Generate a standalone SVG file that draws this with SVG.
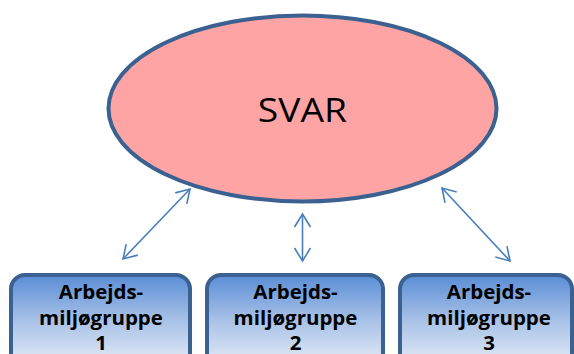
<svg xmlns="http://www.w3.org/2000/svg" width="574" height="354" viewBox="0 0 574 354">
<style>
.box{stroke:#3b6190;stroke-width:4;fill:url(#g)}
.bt{font-family:"Open Sans","Liberation Sans",sans-serif;font-weight:bold;font-size:19.5px;fill:#000;text-anchor:middle}
.conn{stroke:#4a7ebb;stroke-width:1.6;fill:none;marker-start:url(#ah);marker-end:url(#ah)}
</style>
<defs>
<linearGradient id="g" x1="0" y1="0" x2="0" y2="1">
<stop offset="0" stop-color="#5a8dd5"/>
<stop offset="0.45" stop-color="#a7c1e7"/>
<stop offset="0.8" stop-color="#d7e2f3"/>
<stop offset="1" stop-color="#dde6f4"/>
</linearGradient>
<marker id="ah" markerUnits="userSpaceOnUse" viewBox="-15 -10 17 20" markerWidth="17" markerHeight="20" refX="0" refY="0" orient="auto-start-reverse">
<path d="M-13,-8 L0,0 L-13,8" fill="none" stroke="#4a7ebb" stroke-width="1.6"/>
</marker>
</defs>
<g id="svar">
<ellipse cx="302.5" cy="108.5" rx="194" ry="93" fill="#ffa4a4" stroke="#3b6190" stroke-width="4"/>
<text transform="translate(302.5,122) scale(1.13,1)" font-family="Open Sans, Liberation Sans, sans-serif" font-size="33" text-anchor="middle" fill="#000">SVAR</text>
</g>
<g id="connectors">
<line class="conn" x1="190" y1="189" x2="123" y2="259"/>
<line class="conn" x1="302.5" y1="214" x2="302.5" y2="261"/>
<line class="conn" x1="442" y1="188" x2="510" y2="261"/>
</g>
<g id="group1">
<rect class="box" x="11" y="275" width="179" height="100" rx="14"/>
<text class="bt" transform="translate(101,298.5) scale(1.05,1)">Arbejds-</text>
<text class="bt" transform="translate(101,325) scale(1.05,1)">miljøgruppe</text>
<text class="bt" transform="translate(101,350) scale(1.05,1)">1</text>
</g>
<g id="group2">
<rect class="box" x="207" y="275" width="176" height="100" rx="14"/>
<text class="bt" transform="translate(295.5,298.5) scale(1.05,1)">Arbejds-</text>
<text class="bt" transform="translate(295.5,325) scale(1.05,1)">miljøgruppe</text>
<text class="bt" transform="translate(295.5,350) scale(1.05,1)">2</text>
</g>
<g id="group3">
<rect class="box" x="400" y="275" width="172" height="100" rx="14"/>
<text class="bt" transform="translate(489,298.5) scale(1.05,1)">Arbejds-</text>
<text class="bt" transform="translate(489,325) scale(1.05,1)">miljøgruppe</text>
<text class="bt" transform="translate(489,350) scale(1.05,1)">3</text>
</g>
</svg>
